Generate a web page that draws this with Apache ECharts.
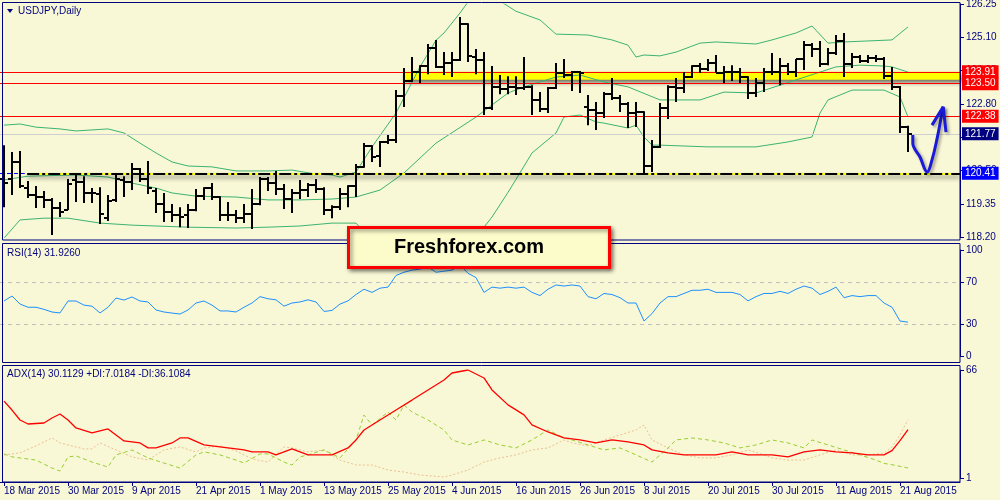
<!DOCTYPE html>
<html><head><meta charset="utf-8">
<script src="https://cdn.jsdelivr.net/npm/echarts@6/dist/echarts.min.js"></script>
<style>html,body{margin:0;padding:0;background:#f8f8d6;}#c{width:1000px;height:500px;}</style>
</head><body><div id="c"></div>
<script>
const dates = ['18 Mar 2015','19 Mar 2015','20 Mar 2015','23 Mar 2015','24 Mar 2015','25 Mar 2015','26 Mar 2015','27 Mar 2015','30 Mar 2015','31 Mar 2015',
'1 Apr 2015','2 Apr 2015','3 Apr 2015','6 Apr 2015','7 Apr 2015','8 Apr 2015','9 Apr 2015','10 Apr 2015','13 Apr 2015','14 Apr 2015','15 Apr 2015','16 Apr 2015','17 Apr 2015','20 Apr 2015','21 Apr 2015','22 Apr 2015','23 Apr 2015','24 Apr 2015','27 Apr 2015','28 Apr 2015','29 Apr 2015','30 Apr 2015',
'1 May 2015','4 May 2015','5 May 2015','6 May 2015','7 May 2015','8 May 2015','11 May 2015','12 May 2015','13 May 2015','14 May 2015','15 May 2015','18 May 2015','19 May 2015','20 May 2015','21 May 2015','22 May 2015','25 May 2015','26 May 2015','27 May 2015','28 May 2015','29 May 2015',
'1 Jun 2015','2 Jun 2015','3 Jun 2015','4 Jun 2015','5 Jun 2015','8 Jun 2015','9 Jun 2015','10 Jun 2015','11 Jun 2015','12 Jun 2015','15 Jun 2015','16 Jun 2015','17 Jun 2015','18 Jun 2015','19 Jun 2015','22 Jun 2015','23 Jun 2015','24 Jun 2015','25 Jun 2015','26 Jun 2015','29 Jun 2015','30 Jun 2015',
'1 Jul 2015','2 Jul 2015','3 Jul 2015','6 Jul 2015','7 Jul 2015','8 Jul 2015','9 Jul 2015','10 Jul 2015','13 Jul 2015','14 Jul 2015','15 Jul 2015','16 Jul 2015','17 Jul 2015','20 Jul 2015','21 Jul 2015','22 Jul 2015','23 Jul 2015','24 Jul 2015','27 Jul 2015','28 Jul 2015','29 Jul 2015','30 Jul 2015','31 Jul 2015',
'3 Aug 2015','4 Aug 2015','5 Aug 2015','6 Aug 2015','7 Aug 2015','10 Aug 2015','11 Aug 2015','12 Aug 2015','13 Aug 2015','14 Aug 2015','17 Aug 2015','18 Aug 2015','19 Aug 2015','20 Aug 2015','21 Aug 2015','24 Aug 2015'];

const opens = [120.21,120.21,120.80,119.90,119.66,119.59,119.49,119.21,119.14,120.18,
120.11,119.73,119.69,118.86,119.49,120.18,120.11,120.56,120.21,119.80,
119.35,119.07,118.97,118.97,119.14,119.62,119.90,119.59,118.97,118.97,
118.86,119.00,119.35,120.21,120.07,119.87,119.52,119.73,119.83,120.00,
119.87,119.14,119.24,119.69,119.97,120.63,121.35,121.00,121.49,121.56,
123.08,123.59,123.90,124.11,124.73,124.08,124.21,124.32,125.56,124.42,
124.32,122.66,123.39,123.32,123.39,123.35,123.39,122.94,122.63,123.35,
123.87,123.80,123.90,122.70,122.59,122.49,123.14,123.01,122.80,122.49,
122.52,120.66,121.32,122.66,123.39,123.35,123.73,124.11,124.01,124.21,
123.87,123.90,123.90,123.73,123.18,123.52,123.90,123.90,124.11,123.90,
124.35,124.83,124.70,124.18,124.56,124.97,124.18,124.42,124.28,124.39,
124.35,123.76,123.39,122.01];
const highs = [121.38,121.14,121.18,120.14,119.97,119.80,119.56,119.42,120.21,120.35,
120.31,119.90,119.93,119.66,120.42,120.31,120.76,120.59,120.83,119.90,
119.73,119.35,119.24,119.35,119.87,119.93,120.07,119.62,119.42,119.14,
119.35,119.87,120.28,120.28,120.49,120.04,119.87,120.18,120.07,120.21,
119.93,119.31,119.90,120.00,120.73,121.45,121.38,121.52,121.73,123.28,
124.04,124.42,124.14,124.87,125.01,124.59,124.59,125.80,125.59,124.70,
124.59,124.11,123.80,123.76,123.76,124.42,123.45,123.21,123.39,124.21,
124.35,123.94,123.94,123.11,122.87,123.21,123.70,123.11,122.87,122.87,
122.55,121.56,122.83,123.45,123.70,123.90,124.14,124.21,124.35,124.49,
124.11,124.14,124.04,123.76,123.70,124.04,124.56,124.39,124.21,124.35,
124.97,124.90,124.97,124.73,125.18,125.25,124.56,124.49,124.49,124.49,
124.42,124.08,123.42,122.05];
const lows = [119.24,119.66,119.90,119.56,119.21,119.21,118.28,118.90,119.14,119.42,
119.38,119.38,118.66,118.76,119.42,119.59,119.83,120.11,119.69,119.04,
118.73,118.73,118.55,118.52,119.10,119.49,119.49,118.76,118.76,118.69,
118.69,118.49,119.31,119.80,119.66,119.18,119.04,119.52,119.59,119.73,
118.97,118.86,119.14,119.24,119.59,120.60,120.80,120.63,121.42,121.45,
122.70,123.56,123.52,123.83,124.04,123.80,123.73,124.28,124.25,123.83,
122.42,122.59,123.14,123.14,123.11,123.28,122.42,122.52,122.49,123.32,
123.70,123.25,123.18,122.07,121.90,122.32,122.94,122.52,121.97,122.01,
120.41,120.45,121.28,122.28,122.87,123.18,123.70,123.87,123.94,123.87,
123.52,123.59,123.52,122.97,123.04,123.21,123.80,123.45,123.80,123.73,
123.97,124.42,124.08,124.14,124.49,123.73,124.04,124.21,124.21,124.25,
123.66,123.28,121.80,121.14];
const closes = [120.07,120.80,119.97,119.66,119.59,119.49,119.21,119.07,120.04,120.11,
119.73,119.73,119.00,119.45,120.21,120.11,120.56,120.21,119.90,119.35,
119.07,118.97,118.90,119.14,119.62,119.90,119.59,118.97,118.97,118.86,
119.00,119.35,120.21,120.07,119.87,119.52,119.73,119.83,120.00,119.87,
119.14,119.24,119.69,119.97,120.63,121.35,120.97,121.49,121.56,123.08,
123.59,123.90,124.11,124.73,124.08,124.21,124.32,125.56,124.45,124.32,
122.66,123.39,123.32,123.39,123.35,123.39,122.94,122.63,123.35,123.87,
123.80,123.90,123.87,122.59,122.49,123.14,123.01,122.80,122.49,122.52,
120.66,121.32,122.66,123.39,123.35,123.73,124.11,124.01,124.21,123.87,
123.90,123.90,123.73,123.18,123.52,123.90,123.90,124.11,123.90,124.35,
124.83,124.70,124.18,124.56,124.97,124.18,124.42,124.28,124.39,124.35,
123.76,123.39,122.01,121.77];

// Bollinger bands: [bar index, value]
const upperBand = [[0,122.07],[2,122.11],[4,122.00],[7,121.94],[9,121.87],[13,121.94],[15,121.80],[17,121.45],[19,121.11],[21,120.80],[23,120.66],[26,120.63],[29,120.49],[33,120.49],[36,120.52],[39,120.38],[41,120.35],[42,120.28],[44,120.45],[46,121.32],[49,122.49],[52,124.08],[54,125.00],[55,125.25],[57,125.94],[58,126.32],[60,126.55],[62,126.35],[64,126.00],[67,125.70],[69,125.21],[73,125.18],[76,125.01],[78,124.83],[79,124.42],[80,124.49],[82,124.46],[84,124.59],[87,124.90],[89,124.94],[94,124.87],[96,125.01],[99,125.25],[101,125.49],[103,124.90],[105,124.94],[111,125.01],[113,125.46]];
const middleBand = [[0,120.18],[3,120.31],[9,120.35],[13,120.28],[16,120.07],[19,119.90],[21,119.73],[24,119.62],[29,119.59],[33,119.49],[37,119.49],[41,119.52],[44,119.59],[47,119.83],[50,120.42],[54,121.45],[59,122.35],[63,123.18],[65,123.39],[69,123.73],[72,123.80],[75,123.56],[78,123.39],[82,122.94],[84,122.94],[87,122.94],[90,123.21],[94,123.18],[97,123.45],[99,123.63],[102,123.90],[104,124.08],[107,124.14],[110,124.11],[111,124.08],[113,123.90]];
const lowerBand = [[0,118.17],[2,118.80],[5,118.86],[8,118.86],[12,118.69],[16,118.62],[23,118.55],[29,118.52],[33,118.55],[37,118.59],[41,118.69],[44,118.69],[46,118.08],[48,118.10],[51,117.97],[54,117.90],[57,117.86],[59,118.25],[60,118.55],[61,118.90],[63,119.75],[64,120.20],[66,121.11],[69,121.80],[70,122.35],[72,122.42],[74,122.18],[75,122.14],[78,121.97],[79,122.07],[80,121.66],[81,121.38],[82,121.38],[88,121.32],[94,121.32],[98,121.49],[101,121.66],[102,122.49],[103,122.94],[106,123.28],[110,123.28],[112,123.04],[113,122.35]];

const rsiValues = [51.9,56.6,49,46,46,44,41.5,40.6,51.9,51.9,
48,47,40.6,46,54.7,52.8,55.7,51.9,51,43.4,
41.5,40.5,39.6,43.4,50,51.9,48,42.5,42.5,41.5,
46,50,56,54,53,47,50,51,53,51,
42,43,49,52,58,63,60,64,65,76,
79,81,82,84,79,80,81,86,78,74,
60,65,64,65,64,65,60,57,63,67,
66,67,66,56,54,59,58,55,50,50,
33,40,50,56,56,59,62,62,63,60,
60,60,58,52,56,59,59,61,59,63,
66,64,58,61,65,55,57,56,57,57,
50,46,33,31.926];

const adxValues = [[0,47.3],[1,41.9],[2,35.9],[3,33.5],[5,34.1],[6,37.1],[7,39.5],[8,35.9],[9,31.1],[11,28.1],[12,29.3],[13,30.5],[14,26.9],[15,23.3],[17,22.1],[18,19.1],[19,19.1],[21,22.1],[22,25.1],[23,25.1],[25,20.9],[26,20.3],[29,18.5],[30,17.9],[31,16.7],[33,16.7],[34,14.9],[35,16.7],[36,18.5],[37,16.7],[38,14.9],[41,14.9],[43,19.1],[44,23.9],[45,29.9],[47,35.9],[49,41.9],[51,47.9],[53,54],[55,60],[56,64.2],[58,66],[60,61.2],[61,54],[63,45],[65,39],[66,33],[68,28.7],[70,25.1],[72,23.9],[74,22.1],[76,23.9],[78,22.7],[80,20.9],[81,17.9],[83,16.1],[85,14.9],[87,14.9],[89,14.9],[91,16.7],[93,14.9],[95,14.9],[96,14.9],[98,13.7],[100,16.7],[102,17.9],[104,16.7],[106,16.1],[108,14.9],[110,14.9],[111,17.5],[112,23.5],[113,30.1129]];
const plusDi = [[0,15.5],[1,13.7],[4,11.8],[6,7.0],[7,5.2],[8,13.7],[9,14.3],[11,10.6],[13,7.6],[14,14.9],[16,17.9],[18,13.1],[20,10.0],[22,7.0],[24,14.9],[25,16.7],[27,14.9],[29,11.8],[30,10.0],[32,15.5],[33,15.5],[35,10.6],[36,8.8],[37,13.7],[38,14.9],[40,17.9],[42,13.1],[44,23.9],[45,38.9],[46,32.9],[48,40.7],[49,35.9],[50,44.9],[51,40.7],[53,35.9],[55,29.9],[56,23.9],[58,20.9],[60,23.9],[62,20.9],[64,19.1],[66,23.9],[68,29.9],[70,25.1],[71,23.9],[73,20.9],[75,17.9],[77,19.1],[79,14.9],[81,10.6],[83,19.1],[84,23.9],[86,25.1],[88,23.9],[90,22.1],[92,19.1],[94,20.9],[96,23.9],[98,22.1],[100,19.1],[101,23.9],[103,20.9],[105,17.9],[107,14.9],[109,11.8],[110,9.8],[111,9.0],[112,8.0],[113,7.0184]];
const minusDi = [[0,14.9],[2,16.1],[4,20.3],[6,25.1],[7,22.1],[10,18.5],[11,18.5],[12,22.1],[14,17.9],[16,13.7],[18,11.8],[20,17.9],[22,19.7],[24,16.7],[25,19.1],[27,20.3],[29,17.3],[31,12.5],[33,10.6],[35,19.7],[36,19.1],[38,16.7],[40,17.9],[42,11.8],[44,8.8],[46,8.8],[48,5.8],[50,4.6],[52,2.8],[55,1.6],[56,2.8],[58,5.8],[60,10.6],[62,13.1],[64,14.9],[66,17.9],[68,19.1],[70,23.9],[71,22.1],[73,20.3],[75,23.9],[77,26.9],[79,29.9],[80,32.9],[81,23.9],[83,19.1],[85,14.9],[87,13.1],[89,13.1],[91,14.9],[93,17.9],[95,14.9],[96,13.1],[98,11.8],[100,11.8],[102,14.9],[104,17.9],[106,14.9],[108,14.9],[110,16.1],[111,19.5],[112,27],[113,36.1084]];

const priceTicks = [118.20,119.35,120.50,121.65,122.80,123.95,125.10,126.25];
const rsiTicks = [0,30,70,100];
const rsiLevels = [70,30];
const adxTicks = [1,66];

const resistTop = 123.91, resistBottom = 123.50, midLevel = 122.38, bidLevel = 121.77, supportLevel = 120.41;
const zoneTop = 123.91, zoneBottom = 123.64, zoneStart = 49.9;
const supportStart = 2.9;
// hand-drawn arrow annotation, in [bar index, price]
const arrowStroke = [[113.6,121.73],[113.6,121.45],[114.5,120.97],[115.4,120.45],[116.0,120.87],[116.6,121.56],[117.25,122.49],[117.4,122.70]];
const arrowHead = [[116.0,122.07],[117.4,122.70],[117.75,121.83]];

const NAVY = '#000080';
const FONT = '"Liberation Sans", Arial, sans-serif';
const ohlc = dates.map((d, i) => [i, opens[i], highs[i], lows[i], closes[i]]);
const axisCats = dates.concat(['', '', '', '', '', '']);

const chart = echarts.init(document.getElementById('c'), null, {renderer: 'canvas'});

function boxLabel(bg, val) {
  return {show: true, position: 'end', distance: 2, color: '#fff', backgroundColor: bg,
    padding: [2, 3, 1, 3], fontSize: 10, fontFamily: FONT,
    formatter: () => val.toFixed(2)};
}
const noLabel = {show: false};

const valueX = (g) => ({gridIndex: g, type: 'value', min: -0.5, max: 119.5, show: false});
function rightAxis(g, min, max, ticks, fmt) {
  return {gridIndex: g, type: 'value', position: 'right', min: min, max: max,
    axisLine: {show: true, onZero: false, lineStyle: {color: NAVY, width: 1}}, splitLine: {show: false},
    axisTick: {show: true, inside: false, length: 4, customValues: ticks, lineStyle: {color: NAVY}},
    axisLabel: {customValues: ticks, formatter: fmt, color: NAVY, fontSize: 10, fontFamily: FONT, margin: 6}};
}
const option = {
  animation: false,
  backgroundColor: '#f8f8d6',
  grid: [
    {left: 0, right: 40, top: 4, height: 233.3, outerBoundsMode: 'none', containLabel: false},
    {left: 0, right: 40, top: 250, height: 106, outerBoundsMode: 'none', containLabel: false},
    {left: 0, right: 40, top: 370, height: 108, outerBoundsMode: 'none', containLabel: false}
  ],
  xAxis: [valueX(0), valueX(1), valueX(2),
    {gridIndex: 2, type: 'category', data: axisCats, position: 'bottom', offset: 4, boundaryGap: true,
     axisLine: {show: true, lineStyle: {color: NAVY, width: 1}},
     axisTick: {show: true, alignWithLabel: true, interval: 7, length: 4, lineStyle: {color: NAVY}},
     axisLabel: {interval: 7, align: 'left', margin: 4, color: NAVY, fontSize: 10, fontFamily: FONT},
     splitLine: {show: false}}
  ],
  yAxis: [
    rightAxis(0, 118.2, 126.25, priceTicks, v => v.toFixed(2)),
    rightAxis(1, 0, 100, rsiTicks, v => String(v)),
    rightAxis(2, 1, 66, adxTicks, v => String(v))
  ],
  series: [
    {type: 'line', xAxisIndex: 0, yAxisIndex: 0, data: [], z: 1, silent: true,
     markArea: {silent: true, data: [[{coord: [zoneStart, zoneTop]}, {coord: [119.5, zoneBottom]}]],
       itemStyle: {color: '#ffff00', shadowBlur: 4, shadowColor: 'rgba(0,0,0,0.55)', shadowOffsetX: 2, shadowOffsetY: 3}}},
    {type: 'line', xAxisIndex: 0, yAxisIndex: 0, data: upperBand, showSymbol: false, z: 3, silent: true,
     lineStyle: {color: '#3cb371', width: 1}},
    {type: 'line', xAxisIndex: 0, yAxisIndex: 0, data: middleBand, showSymbol: false, z: 3, silent: true,
     lineStyle: {color: '#3cb371', width: 1}},
    {type: 'line', xAxisIndex: 0, yAxisIndex: 0, data: lowerBand, showSymbol: false, z: 3, silent: true,
     lineStyle: {color: '#3cb371', width: 1}},
    {type: 'line', xAxisIndex: 0, yAxisIndex: 0, data: [], z: 4, silent: true,
     markLine: {silent: true, symbol: ['none', 'none'], data: [
       {yAxis: bidLevel, lineStyle: {color: '#cfcfcf', width: 1, type: 'solid'}, label: boxLabel(NAVY, bidLevel)},
       {yAxis: midLevel, lineStyle: {color: '#ff0000', width: 1, type: 'solid'}, label: boxLabel('#ff0000', midLevel)},
       {yAxis: resistBottom, lineStyle: {color: '#ff0000', width: 1, type: 'solid'}, label: boxLabel('#ff0000', resistBottom)},
       {yAxis: resistTop, lineStyle: {color: '#ff0000', width: 1, type: 'solid'}, label: boxLabel('#ff0000', resistTop)},
       [{coord: [-0.5, supportLevel]}, {coord: [supportStart - 0.3, supportLevel], lineStyle: {color: '#0000ff', width: 1, type: [4, 3]}, label: noLabel}],
       [{coord: [supportStart, supportLevel]}, {coord: [119.5, supportLevel], lineStyle: {color: '#ffff00', width: 2, type: 'solid', shadowBlur: 4, shadowColor: 'rgba(0,0,0,0.5)', shadowOffsetY: 3}, label: noLabel}],
       [{coord: [supportStart, supportLevel]}, {coord: [119.5, supportLevel], lineStyle: {color: '#000000', width: 2, type: [12, 3, 3, 3]}, label: boxLabel('#0000ff', supportLevel)}]
     ]}},
    {type: 'custom', xAxisIndex: 0, yAxisIndex: 0, data: ohlc, z: 5, silent: true,
     encode: {x: 0, y: [1, 2, 3, 4]},
     renderItem: function (params, api) {
       const i = api.value(0);
       const pO = api.coord([i, api.value(1)]);
       const pH = api.coord([i, api.value(2)]);
       const pL = api.coord([i, api.value(3)]);
       const pC = api.coord([i, api.value(4)]);
       const x = Math.round(pH[0]);
       const st = {stroke: '#000', lineWidth: 2};
       const yo = Math.round(pO[1]), yc = Math.round(pC[1]);
       return {type: 'group', children: [
         {type: 'line', shape: {x1: x, y1: pH[1], x2: x, y2: pL[1]}, style: st},
         {type: 'line', shape: {x1: x - 4, y1: yo, x2: x, y2: yo}, style: st},
         {type: 'line', shape: {x1: x, y1: yc, x2: x + 4, y2: yc}, style: st}
       ]};
     }},
    {type: 'line', xAxisIndex: 0, yAxisIndex: 0, data: arrowStroke, smooth: 0.4, showSymbol: false, z: 8, silent: true, clip: false,
     lineStyle: {color: '#1a1ad8', width: 3, shadowBlur: 3, shadowColor: 'rgba(0,0,0,0.35)', shadowOffsetX: 2, shadowOffsetY: 2}},
    {type: 'line', xAxisIndex: 0, yAxisIndex: 0, data: arrowHead, showSymbol: false, z: 8, silent: true, clip: false,
     lineStyle: {color: '#1a1ad8', width: 3, shadowBlur: 3, shadowColor: 'rgba(0,0,0,0.35)', shadowOffsetX: 2, shadowOffsetY: 2}},
    {type: 'line', xAxisIndex: 1, yAxisIndex: 1, data: rsiValues.map((v, i) => [i, v]), showSymbol: false, z: 4, silent: true,
     lineStyle: {color: '#1e90ff', width: 1},
     markLine: {silent: true, symbol: ['none', 'none'], label: noLabel,
       lineStyle: {color: '#c0c0c0', width: 1, type: [4, 4]},
       data: rsiLevels.map(v => ({yAxis: v}))}},
    {type: 'line', xAxisIndex: 2, yAxisIndex: 2, data: minusDi, showSymbol: false, z: 3, silent: true,
     lineStyle: {color: '#eebd92', width: 1, type: [2, 2]}},
    {type: 'line', xAxisIndex: 2, yAxisIndex: 2, data: plusDi, showSymbol: false, z: 3, silent: true,
     lineStyle: {color: '#9acd32', width: 1, type: [4, 3]}},
    {type: 'line', xAxisIndex: 2, yAxisIndex: 2, data: adxValues, showSymbol: false, z: 4, silent: true,
     lineStyle: {color: '#ff0000', width: 1.3}}
  ],
  graphic: [
    {type: 'rect', shape: {x: 2.5, y: 2.5, width: 957.5, height: 237.5}, style: {fill: 'none', stroke: NAVY, lineWidth: 1}, z: 50, silent: true},
    {type: 'rect', shape: {x: 2.5, y: 243.5, width: 957.5, height: 119}, style: {fill: 'none', stroke: NAVY, lineWidth: 1}, z: 50, silent: true},
    {type: 'rect', shape: {x: 2.5, y: 365.5, width: 957.5, height: 116.5}, style: {fill: 'none', stroke: NAVY, lineWidth: 1}, z: 50, silent: true},
    {type: 'polygon', shape: {points: [[7, 9], [13, 9], [10, 13]]}, style: {fill: NAVY}, z: 50, silent: true},
    {type: 'text', x: 18, y: 11, style: {text: 'USDJPY,Daily', font: '10px ' + FONT, fill: NAVY, textVerticalAlign: 'middle', verticalAlign: 'middle'}, z: 50, silent: true},
    {type: 'text', x: 7, y: 253, style: {text: 'RSI(14) 31.9260', font: '10px ' + FONT, fill: NAVY, textVerticalAlign: 'middle', verticalAlign: 'middle'}, z: 50, silent: true},
    {type: 'text', x: 7, y: 374, style: {text: 'ADX(14) 30.1129 +DI:7.0184 -DI:36.1084', font: '10px ' + FONT, fill: NAVY, textVerticalAlign: 'middle', verticalAlign: 'middle'}, z: 50, silent: true},
    {type: 'rect', shape: {x: 348.5, y: 227.5, width: 261, height: 40}, style: {fill: '#fcfccb', stroke: '#ff0000', lineWidth: 3, shadowBlur: 4, shadowOffsetX: 2, shadowOffsetY: 2, shadowColor: 'rgba(0,0,0,0.45)'}, z: 100, silent: true},
    {type: 'text', x: 469, y: 247, style: {text: 'Freshforex.com', font: 'bold 20px ' + FONT, fill: '#000', textAlign: 'center', align: 'center', textVerticalAlign: 'middle', verticalAlign: 'middle'}, z: 101, silent: true}
  ]
};
chart.setOption(option);
</script>
</body></html>
